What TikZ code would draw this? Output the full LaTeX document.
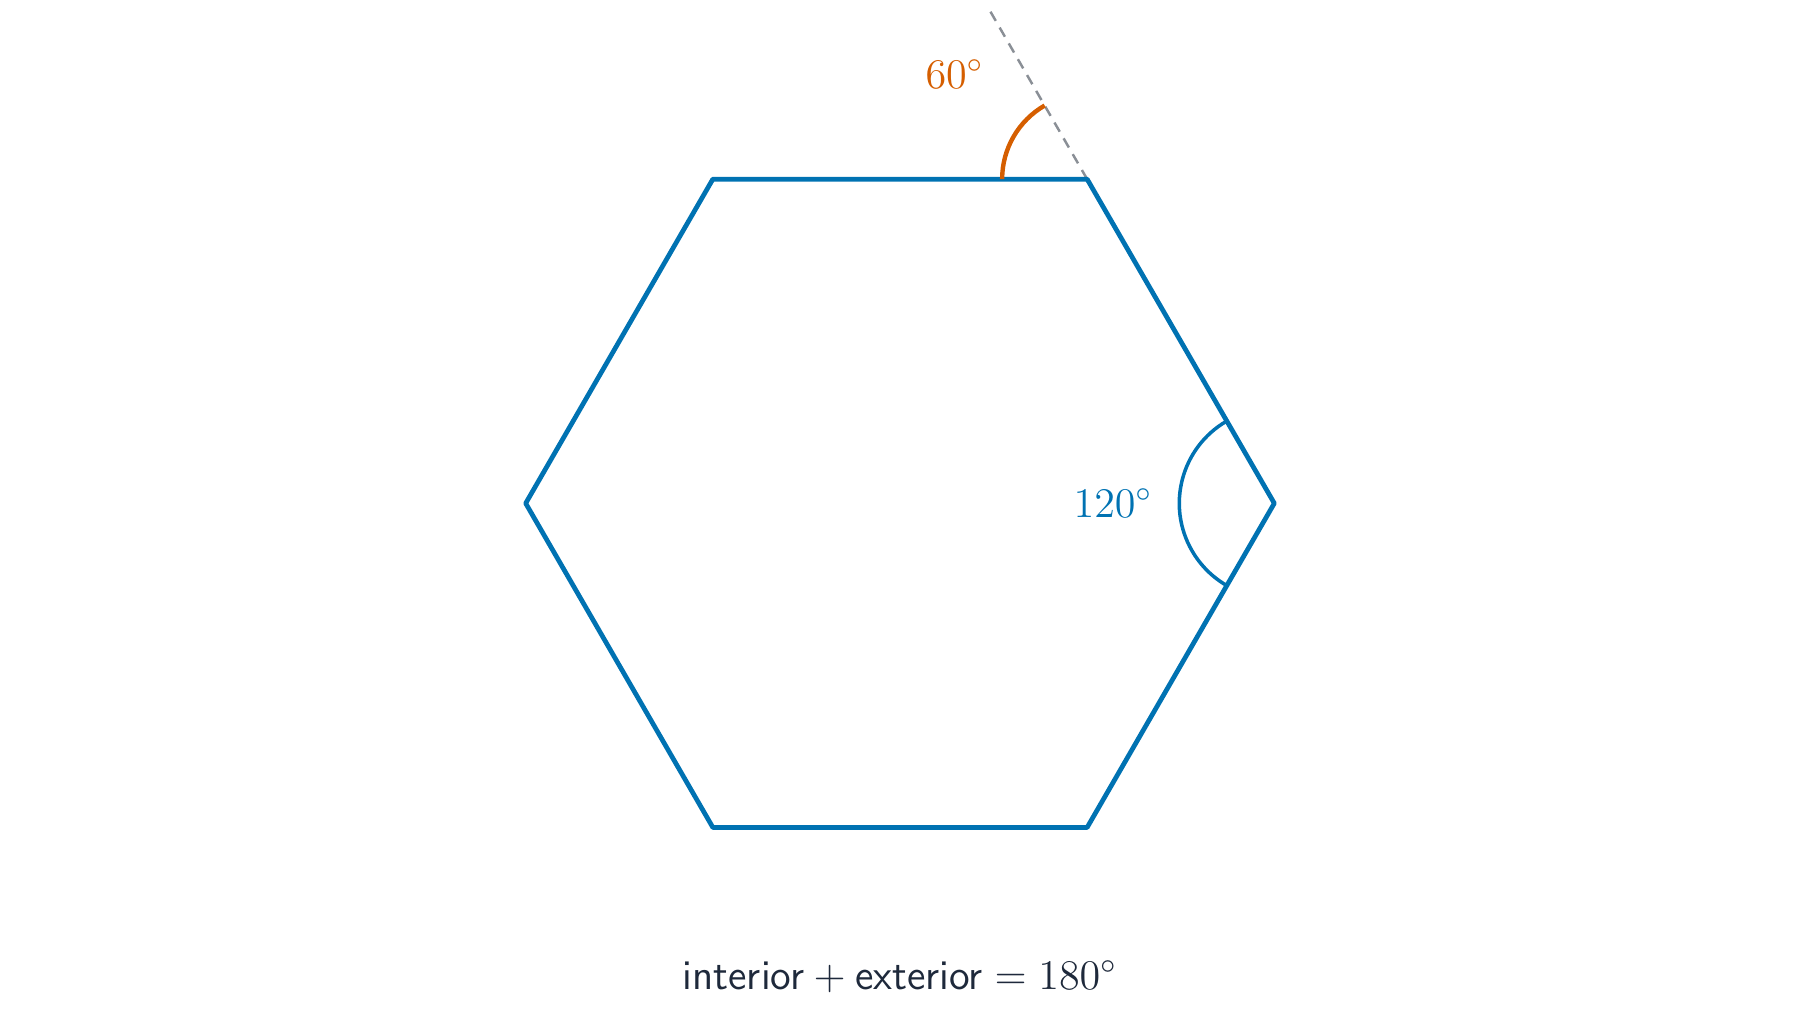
\documentclass[tikz,border=0pt]{standalone}
\usepackage{amsmath}
\usetikzlibrary{calc}
\definecolor{hexblue}{HTML}{0072B2}
\definecolor{extorange}{HTML}{D55E00}
\definecolor{textdark}{HTML}{1E293B}
\definecolor{guidegray}{HTML}{8A8F96}
\tikzset{
  hexline/.style={draw=hexblue, line width=1.35pt, line join=round},
  intarc/.style={draw=hexblue, line width=1.0pt},
  extarc/.style={draw=extorange, line width=1.25pt},
  guide/.style={draw=guidegray, line width=0.7pt, dash pattern=on 3pt off 2.2pt},
  lbl/.style={font=\fontsize{12}{14}\selectfont, inner sep=0pt}
}
\begin{document}
\begin{tikzpicture}
\useasboundingbox (0,0) rectangle (18,10.12);
\coordinate (O) at (9,5.087);
\coordinate (A) at ($(O)+(0:3.743)$);
\coordinate (B) at ($(O)+(60:3.743)$);
\coordinate (C) at ($(O)+(120:3.743)$);
\coordinate (D) at ($(O)+(180:3.743)$);
\coordinate (E) at ($(O)+(240:3.743)$);
\coordinate (F) at ($(O)+(300:3.743)$);
\coordinate (G) at ($(B)+(120:1.96)$);
\draw[guide] (B) -- (G);
\draw[hexline] (A) -- (B) -- (C) -- (D) -- (E) -- (F) -- cycle;
\draw[extarc] ($(B)+(180:0.85)$) arc[start angle=180, end angle=120, radius=0.85];
\draw[intarc] ($(A)+(120:0.95)$) arc[start angle=120, end angle=240, radius=0.95];
\node[lbl, text=extorange] (l60) at (9.545,9.38) {$60^\circ$};
\node[lbl, text=hexblue] (l120) at (11.13,5.09) {$120^\circ$};
\node[lbl, text=textdark, anchor=base] (eq) at (9.0,0.228) {$\textsf{interior} + \textsf{exterior} = 180^\circ$};
\end{tikzpicture}
\end{document}
